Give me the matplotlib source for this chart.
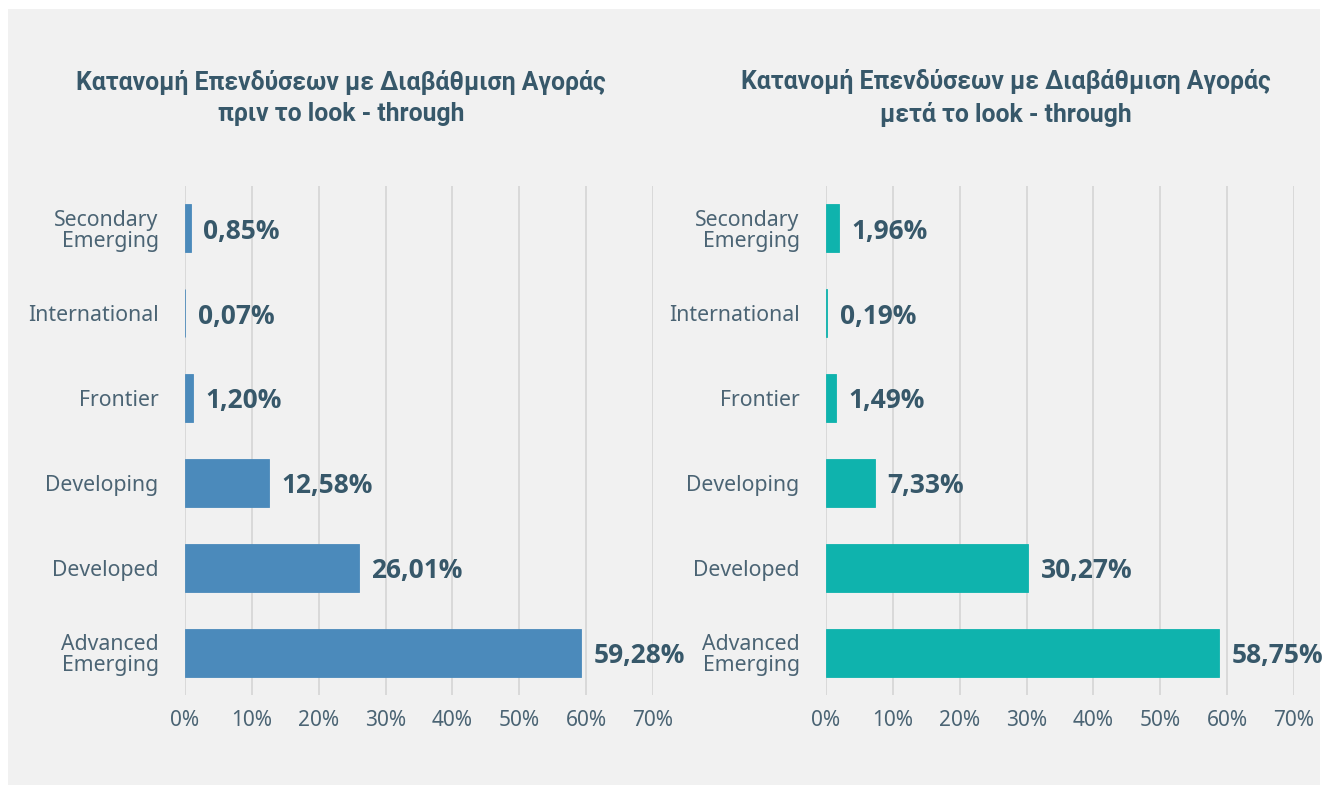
import numpy as np
import matplotlib.pyplot as plt
from matplotlib.patches import Rectangle
from matplotlib.ticker import FuncFormatter

categories = ["Advanced\nEmerging", "Developed", "Developing", "Frontier", "International", "Secondary\nEmerging"]
before = [59.28, 26.01, 12.58, 1.20, 0.07, 0.85]
after = [58.75, 30.27, 7.33, 1.49, 0.19, 1.96]
titles = ["Κατανομή Επενδύσεων με Διαβάθμιση Αγοράς\nπριν το look - through",
          "Κατανομή Επενδύσεων με Διαβάθμιση Αγοράς\nμετά το look - through"]
ticks = [0, 10, 20, 30, 40, 50, 60, 70]

text_col = "#37586a"
tick_col = "#4b6474"
colors = ["#4b8abb", "#0fb3ad"]

fig = plt.figure(figsize=(13.28, 7.94), dpi=100, facecolor="white")
# gray panel behind everything
fig.patches.append(Rectangle((8/1328, 9/794), 1312/1328, 776/794, transform=fig.transFigure,
                             facecolor="#f1f1f1", edgecolor="none", zorder=-5))

lefts = [185/1328, 826/1328]
title_x = [341/1328, 1006/1328]
y = np.arange(len(categories))
for i, (vals, col) in enumerate(zip([before, after], colors)):
    ax = fig.add_axes([lefts[i], 99/794, 468/1328, 509/794])
    ax.set_facecolor("none")
    ax.barh(y, vals, height=0.565, color=col, edgecolor=col, linewidth=0.6, zorder=3)
    ax.set_xlim(0, 70)
    ax.set_ylim(-0.5, 5.5)
    ax.set_xticks(ticks)
    ax.xaxis.set_major_formatter(FuncFormatter(lambda v, p: f"{v:.0f}%"))
    ax.set_yticks(y)
    ax.set_yticklabels(categories, family="Noto Sans", fontsize=15.3, color=tick_col,
                       linespacing=0.98, ha="right")
    for lab in ax.get_xticklabels():
        lab.set_family("Noto Sans")
        lab.set_fontsize(15)
        lab.set_color(tick_col)
    ax.tick_params(axis="both", length=0)
    ax.tick_params(axis="y", pad=19)
    ax.tick_params(axis="x", pad=11)
    ax.grid(axis="x", color="#d9d9d9", linewidth=1.4, zorder=0)
    for s in ax.spines.values():
        s.set_visible(False)
    for yy, v in zip(y, vals):
        ax.annotate(f"{v:.2f}%".replace(".", ","), (v, yy), xytext=(9, -2),
                    textcoords="offset points", va="center", ha="left",
                    fontsize=19, fontweight="bold", color=text_col, family="Open Sans")
    fig.text(title_x[i], 1 - 98/794, titles[i], ha="center", va="center", fontsize=17.8,
             fontweight="bold", color=text_col, family="Roboto",
             linespacing=1.4)

fig.savefig("out.png", dpi=100, facecolor="white")
